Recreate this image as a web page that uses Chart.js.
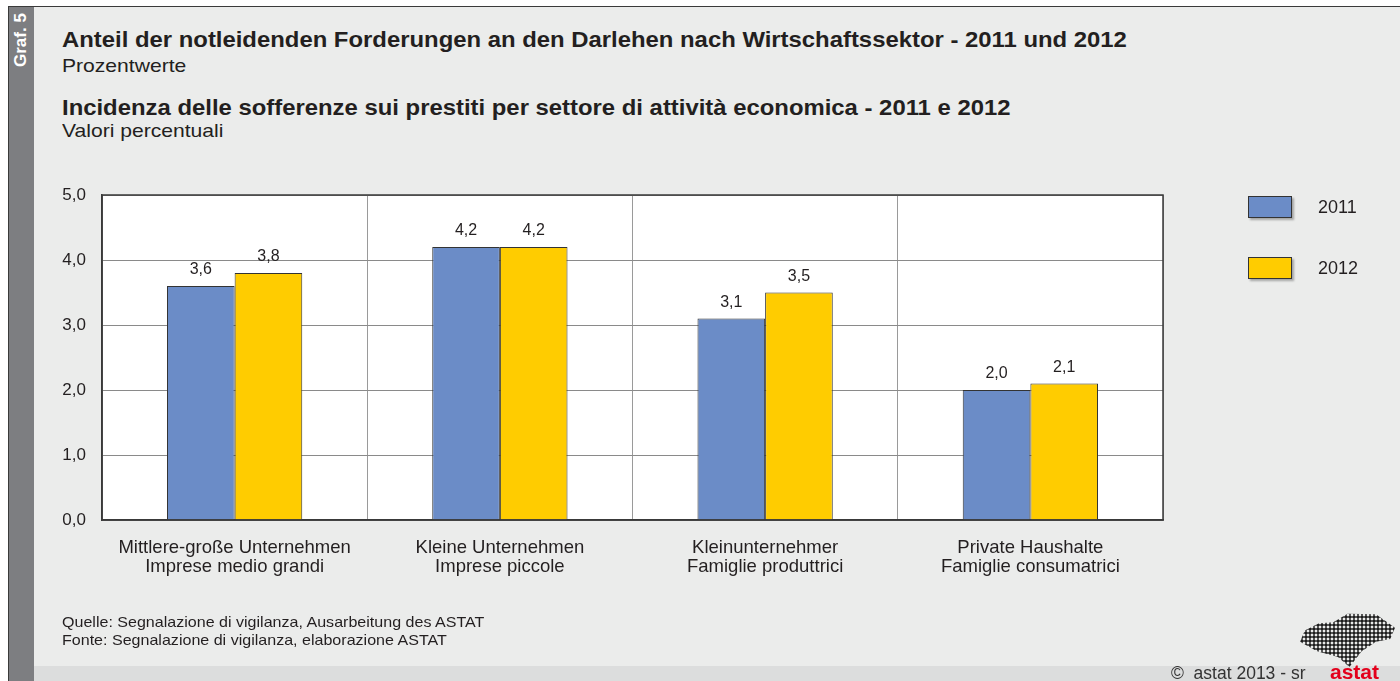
<!DOCTYPE html>
<html>
<head>
<meta charset="utf-8">
<script src="https://cdn.jsdelivr.net/npm/chart.js@4"></script>
<style>
  html, body { margin: 0; padding: 0; background: #fff; }
  body { width: 1400px; height: 681px; position: relative; overflow: hidden; font-family: "Liberation Sans", Arial, sans-serif; color: #231f20; }
  #frame { position: absolute; left: 8px; top: 6px; width: 1392px; height: 675px; background: #ebeceb; border-top: 1.5px solid #3a3a3a; border-left: 1.5px solid #3a3a3a; box-sizing: border-box; }
  #strip { position: absolute; left: 9px; top: 7px; width: 25px; height: 674px; background: #7d7e81; }
  #strip span { position: absolute; left: 2px; top: 60px; transform: rotate(-90deg); transform-origin: left top; color: #fff; font-weight: bold; font-size: 17px; white-space: nowrap; }
  #foot { position: absolute; left: 34px; top: 666px; width: 1366px; height: 15px; background: #dcdddd; }
  .t { position: absolute; left: 62px; white-space: nowrap; transform-origin: left top; }
  .b { font-weight: bold; font-size: 22px; transform: scaleX(1.085); }
  .s { font-size: 19px; transform: scaleX(1.11); }
  #chartWrap { position: absolute; left: 0; top: 0; width: 1400px; height: 681px; }
  .lg { position: absolute; left: 1248px; width: 42px; height: 20px; border: 1px solid #333; box-shadow: 2px 2px 2px rgba(0,0,0,0.3); }
  .lt { position: absolute; left: 1318px; font-size: 18px; }
  .src { font-size: 15px; transform: scaleX(1.07); }
  #copy { position: absolute; left: 1171px; top: 663px; font-size: 17.5px; color: #333; }
  #logo { position: absolute; left: 1330px; top: 660px; font-size: 21px; font-weight: bold; color: #e3001b; }
  #map { position: absolute; left: 1300px; top: 611px; width: 95px; height: 56px;
         background-image: radial-gradient(circle, #1e1e1e 1.5px, transparent 1.8px); background-size: 4px 4px;
         clip-path: polygon(5% 35%, 20% 22%, 35% 20%, 50% 5%, 80% 6%, 100% 30%, 95% 50%, 80% 55%, 65% 72%, 52% 100%, 40% 82%, 18% 72%, 0% 55%); }
</style>
</head>
<body>
<div id="frame"></div>
<div id="strip"><span>Graf. 5</span></div>
<div id="foot"></div>

<div class="t b" style="top:27px">Anteil der notleidenden Forderungen an den Darlehen nach Wirtschaftssektor - 2011 und 2012</div>
<div class="t s" style="top:55px">Prozentwerte</div>
<div class="t b" style="top:95px">Incidenza delle sofferenze sui prestiti per settore di attività economica - 2011 e 2012</div>
<div class="t s" style="top:120px">Valori percentuali</div>

<div id="chartWrap"><canvas id="chart" width="1400" height="681"></canvas></div>

<div class="lg" style="top:196px; background:#6b8cc7"></div>
<div class="lt" style="top:197px">2011</div>
<div class="lg" style="top:257px; background:#ffcc00"></div>
<div class="lt" style="top:258px">2012</div>

<div class="t src" style="top:613px">Quelle: Segnalazione di vigilanza, Ausarbeitung des ASTAT</div>
<div class="t src" style="top:631px">Fonte: Segnalazione di vigilanza, elaborazione ASTAT</div>

<div id="map"></div>
<div id="copy">©&nbsp; astat 2013 - sr</div>
<div id="logo">astat</div>

<script>
const categories = [
  ['Mittlere-große Unternehmen', 'Imprese medio grandi'],
  ['Kleine Unternehmen', 'Imprese piccole'],
  ['Kleinunternehmer', 'Famiglie produttrici'],
  ['Private Haushalte', 'Famiglie consumatrici']
];
const values2011 = [3.6, 4.2, 3.1, 2.0];
const values2012 = [3.8, 4.2, 3.5, 2.1];
const yTicks = [0, 1, 2, 3, 4, 5];

const fmt = (v, d) => v.toFixed(d).replace('.', ',');

// white plot background + dark frame around it
const plotFrame = {
  id: 'plotFrame',
  beforeDraw(chart) {
    const a = chart.chartArea, ctx = chart.ctx;
    ctx.save();
    ctx.fillStyle = '#ffffff';
    ctx.fillRect(a.left, a.top, a.right - a.left, a.bottom - a.top);
    ctx.restore();
  },
  afterDraw(chart) {
    const a = chart.chartArea, ctx = chart.ctx;
    ctx.save();
    ctx.strokeStyle = '#3a3a3a';
    ctx.lineWidth = 1.5;
    ctx.strokeRect(a.left, a.top, a.right - a.left, a.bottom - a.top);
    ctx.restore();
  }
};

// value labels above the bars
const valueLabels = {
  id: 'valueLabels',
  afterDatasetsDraw(chart) {
    const ctx = chart.ctx;
    ctx.save();
    ctx.font = '16px "Liberation Sans", Arial, sans-serif';
    ctx.fillStyle = '#231f20';
    ctx.textAlign = 'center';
    ctx.textBaseline = 'bottom';
    chart.data.datasets.forEach((ds, i) => {
      chart.getDatasetMeta(i).data.forEach((bar, j) => {
        ctx.fillText(fmt(ds.data[j], 1), bar.x, bar.y - 8);
      });
    });
    ctx.restore();
  }
};

new Chart(document.getElementById('chart'), {
  type: 'bar',
  data: {
    labels: categories,
    datasets: [
      { label: '2011', data: values2011, backgroundColor: '#6b8cc7', borderColor: '#333333', borderWidth: 1 },
      { label: '2012', data: values2012, backgroundColor: '#ffcc00', borderColor: '#333333', borderWidth: 1 }
    ]
  },
  options: {
    responsive: false,
    animation: false,
    layout: { padding: { left: 55, top: 195, right: 237, bottom: 101 } },
    datasets: { bar: { categoryPercentage: 0.51, barPercentage: 1 } },
    plugins: { legend: { display: false }, tooltip: { enabled: false } },
    scales: {
      x: {
        grid: { color: '#9a9a9a', lineWidth: 1, tickLength: 0, offset: true },
        border: { color: '#3a3a3a', width: 1.5 },
        ticks: { color: '#231f20', font: { size: 18.5, family: '"Liberation Sans", Arial, sans-serif', lineHeight: 1.0 }, padding: 19, maxRotation: 0, autoSkip: false },
        afterFit(s) { s.height = 60; }
      },
      y: {
        min: 0, max: 5,
        afterBuildTicks(s) { s.ticks = yTicks.map(v => ({ value: v })); },
        grid: { color: '#8a8a8a', lineWidth: 1, tickLength: 0 },
        border: { color: '#3a3a3a', width: 1.5 },
        ticks: { color: '#231f20', font: { size: 17, family: '"Liberation Sans", Arial, sans-serif' }, padding: 16, callback: v => fmt(v, 1) },
        afterFit(s) { s.width = 47; }
      }
    }
  },
  plugins: [plotFrame, valueLabels]
});
</script>
</body>
</html>
